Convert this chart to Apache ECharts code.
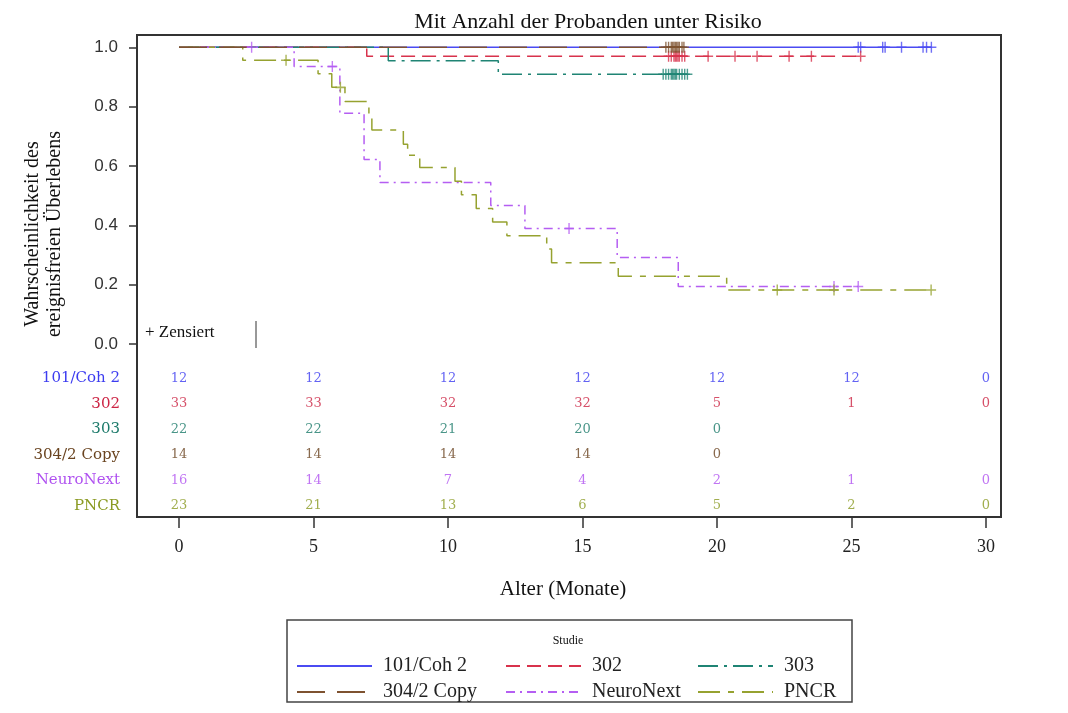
<!DOCTYPE html>
<html>
<head>
<meta charset="utf-8">
<script src="https://cdn.jsdelivr.net/npm/echarts@6/dist/echarts.min.js"></script>
<style>
html,body{margin:0;padding:0;background:#fff;}
#chart{width:1068px;height:713px;}
</style>
</head>
<body>
<div id="chart"></div>
<script>
// ---- Studies ----
const studies = ['101/Coh 2', '302', '303', '304/2 Copy', 'NeuroNext', 'PNCR'];

// ---- Kaplan-Meier step curves (event times and survival after each step) ----
const cohTimes   = [0, 27.97];
const cohSurv    = [1, 1];
const s302Times  = [0, 6.98, 25.34];
const s302Surv   = [1, 0.970, 0.970];
const s303Times  = [0, 7.78, 11.87, 18.9];
const s303Surv   = [1, 0.955, 0.909, 0.909];
const s304Times  = [0, 18.8];
const s304Surv   = [1, 1];
const neuroTimes = [0, 4.28, 5.98, 6.88, 7.47, 11.59, 12.86, 16.29, 18.56, 25.25];
const neuroSurv  = [1, 0.935, 0.778, 0.622, 0.544, 0.467, 0.389, 0.292, 0.194, 0.194];
const pncrTimes  = [0, 2.37, 5.17, 5.68, 6.17, 7.06, 7.17, 8.34, 8.5, 8.95, 10.26, 10.5, 11.05, 11.66, 12.19, 13.67, 13.85, 16.33, 20.36, 27.96];
const pncrSurv   = [1, 0.9565, 0.911, 0.865, 0.817, 0.769, 0.721, 0.673, 0.636, 0.595, 0.549, 0.503, 0.457, 0.411, 0.365, 0.320, 0.274, 0.228, 0.182, 0.182];

// ---- Censoring times ----
const cohCens   = [25.25, 25.34, 26.16, 26.25, 26.86, 27.66, 27.79, 27.97];
const s302Cens  = [18.2, 18.3, 18.4, 18.45, 18.5, 18.55, 18.6, 18.7, 18.8, 19.67, 20.67, 21.49, 22.68, 23.51, 25.34];
const s303Cens  = [18.0, 18.1, 18.2, 18.3, 18.35, 18.4, 18.45, 18.5, 18.6, 18.7, 18.8, 18.9];
const s304Cens  = [18.1, 18.2, 18.3, 18.35, 18.4, 18.45, 18.5, 18.55, 18.6, 18.7, 18.77];
const neuroCens = [2.7, 5.7, 14.5, 24.35, 25.25];
const pncrCens  = [3.98, 6.0, 22.24, 24.35, 27.96];

// ---- Number at risk table ----
const riskTimes = [0, 5, 10, 15, 20, 25, 30];
const riskCoh   = [12, 12, 12, 12, 12, 12, 0];
const risk302   = [33, 33, 32, 32, 5, 1, 0];
const risk303   = [22, 22, 21, 20, 0, null, null];
const risk304   = [14, 14, 14, 14, 0, null, null];
const riskNeuro = [16, 14, 7, 4, 2, 1, 0];
const riskPncr  = [23, 21, 13, 6, 5, 2, 0];

// ---- Axis ticks ----
const xTicks = [0, 5, 10, 15, 20, 25, 30];
const yTicks = [0, 0.2, 0.4, 0.6, 0.8, 1.0];

// ---- Styles ----
const lineColors  = ['#4b4bf2', '#d8324c', '#1f8474', '#7e5230', '#b55ef2', '#96a230'];
const tableColors = ['#3c3cf0', '#cc2444', '#1c7a6a', '#6a4420', '#b052f0', '#8a9a22'];
const dashTypes   = ['solid', [14, 7], [20, 6, 3, 6], [28, 12], [9, 5, 2, 5], [22, 8, 6, 8]];
const lineZ       = [3, 4, 5, 8, 6, 7];

const curveTimes = [cohTimes, s302Times, s303Times, s304Times, neuroTimes, pncrTimes];
const curveSurv  = [cohSurv, s302Surv, s303Surv, s304Surv, neuroSurv, pncrSurv];
const censTimes  = [cohCens, s302Cens, s303Cens, s304Cens, neuroCens, pncrCens];
const riskRows   = [riskCoh, risk302, risk303, risk304, riskNeuro, riskPncr];

function survAt(times, surv, t) {
  let v = surv[0];
  for (let k = 0; k < times.length; k++) { if (times[k] <= t + 1e-9) v = surv[k]; }
  return v;
}

const plusPath = 'path://M4.3,0h1.4v4.3h4.3v1.4h-4.3v4.3h-1.4v-4.3h-4.3v-1.4h4.3z';

const series = [];
studies.forEach((name, i) => {
  series.push({
    name: name, type: 'line', xAxisIndex: 0, yAxisIndex: 0,
    step: 'end', symbol: 'none', z: lineZ[i],
    data: curveTimes[i].map((t, k) => [t, curveSurv[i][k]]),
    lineStyle: { color: lineColors[i], width: 1.5, type: dashTypes[i] },
    itemStyle: { color: lineColors[i] },
    emphasis: { disabled: true }
  });
});
studies.forEach((name, i) => {
  series.push({
    name: name + ' zensiert', type: 'scatter', xAxisIndex: 0, yAxisIndex: 0,
    symbol: plusPath, symbolSize: [10, 11], z: 10,
    data: censTimes[i].map(t => [t, survAt(curveTimes[i], curveSurv[i], t)]),
    itemStyle: { color: lineColors[i] },
    emphasis: { disabled: true }
  });
});
studies.forEach((name, i) => {
  const d = [];
  riskTimes.forEach((t, k) => { if (riskRows[i][k] !== null) d.push([t, name, riskRows[i][k]]); });
  series.push({
    name: name + ' risiko', type: 'scatter', xAxisIndex: 1, yAxisIndex: 1,
    symbol: 'circle', symbolSize: 1, itemStyle: { color: 'rgba(0,0,0,0)' },
    data: d,
    label: {
      show: true, position: 'inside', formatter: p => String(p.value[2]),
      color: tableColors[i], fontFamily: 'DejaVu Serif', fontSize: 13
    },
    emphasis: { disabled: true }
  });
});

// legend: one per study, laid out in 3 columns x 2 rows
const legendCols = [296, 505, 697];
const legendRows = [656, 682];
const legends = studies.map((name, i) => ({
  data: [name], left: legendCols[i % 3], top: legendRows[Math.floor(i / 3)],
  padding: 0, itemWidth: 75, itemHeight: 14, selectedMode: false,
  itemStyle: { opacity: 0, color: 'rgba(0,0,0,0)', borderWidth: 0 },
  textStyle: { fontFamily: 'Liberation Serif', fontSize: 20, color: '#222', padding: [0, 0, 0, 6] }
}));

const xMin = -1.561, xMax = 30.558;
const option = {
  animation: false,
  backgroundColor: '#fff',
  grid: [
    { left: 137, right: 67, top: 35, bottom: 196, show: true, borderColor: '#333', borderWidth: 2, backgroundColor: 'transparent' },
    { left: 137, right: 67, top: 365.5, height: 153, show: false }
  ],
  xAxis: [
    {
      type: 'value', gridIndex: 0, min: xMin, max: xMax, position: 'bottom',
      axisLine: { show: false, onZero: false },
      axisTick: { show: true, inside: false, length: 11, customValues: xTicks, lineStyle: { color: '#333', width: 1.5 } },
      axisLabel: { show: true, customValues: xTicks, margin: 21, fontFamily: 'Liberation Serif', fontSize: 18, color: '#222', formatter: v => String(Math.round(v)) },
      splitLine: { show: false }
    },
    {
      type: 'value', gridIndex: 1, min: xMin, max: xMax, show: false
    }
  ],
  yAxis: [
    {
      type: 'value', gridIndex: 0, min: -0.583, max: 1.0415, position: 'left',
      axisLine: { show: false, onZero: false },
      axisTick: { show: true, inside: false, length: 8, customValues: yTicks, lineStyle: { color: '#333', width: 1.5 } },
      axisLabel: { show: true, customValues: yTicks, margin: 19, fontFamily: 'Liberation Sans', fontSize: 17, color: '#333', formatter: v => v.toFixed(1) },
      splitLine: { show: false }
    },
    {
      type: 'category', gridIndex: 1, data: studies, inverse: true,
      axisLine: { show: false }, axisTick: { show: false }, splitLine: { show: false },
      axisLabel: { show: true, margin: 17, fontFamily: 'DejaVu Serif', fontSize: 15, color: (v, idx) => tableColors[studies.indexOf(v)] }
    }
  ],
  legend: legends,
  series: series,
  graphic: [
    { type: 'text', x: 588, y: 22, style: { text: 'Mit Anzahl der Probanden unter Risiko', fontFamily: 'Liberation Serif', fontSize: 22, fill: '#111', align: 'center', verticalAlign: 'middle' } },
    { type: 'text', x: 44, y: 234, rotation: Math.PI / 2, style: { text: 'Wahrscheinlichkeit des\nereignisfreien Überlebens', fontFamily: 'Liberation Serif', fontSize: 20, lineHeight: 22, fill: '#111', align: 'center', verticalAlign: 'middle' } },
    { type: 'text', x: 563, y: 589, style: { text: 'Alter (Monate)', fontFamily: 'Liberation Serif', fontSize: 21, fill: '#111', align: 'center', verticalAlign: 'middle' } },
    { type: 'text', x: 145, y: 333, style: { text: '+ Zensiert', fontFamily: 'Liberation Serif', fontSize: 17, fill: '#111', align: 'left', verticalAlign: 'middle' } },
    { type: 'line', shape: { x1: 256, y1: 321, x2: 256, y2: 348 }, style: { stroke: '#333', lineWidth: 1 } },
    { type: 'rect', shape: { x: 287, y: 620, width: 565, height: 82 }, style: { fill: 'none', stroke: '#444', lineWidth: 1.5 } },
    { type: 'text', x: 568, y: 641, style: { text: 'Studie', fontFamily: 'Liberation Serif', fontSize: 12, fill: '#111', align: 'center', verticalAlign: 'middle' } }
  ]
};

const chart = echarts.init(document.getElementById('chart'));
chart.setOption(option);
</script>
</body>
</html>
